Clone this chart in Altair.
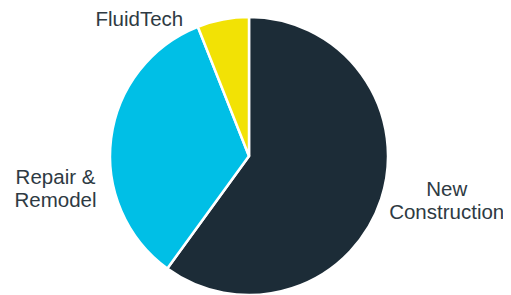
import altair as alt
import pandas as pd

categories = ["New Construction", "Repair & Remodel", "FluidTech"]
labels = ["New\nConstruction", "Repair &\nRemodel", "FluidTech"]
values = [60, 34, 6]
colors = ["#1c2c37", "#00bfe6", "#f2e205"]

df = pd.DataFrame({
    "category": categories,
    "label": labels,
    "value": values,
    "rank": list(range(len(categories))),
})

base = alt.Chart(df).encode(
    theta=alt.Theta("value:Q", stack=True),
    order=alt.Order("rank:Q", sort="ascending"),
    x=alt.value(241),
    y=alt.value(148),
)

pie = base.mark_arc(outerRadius=139, stroke="white", strokeWidth=2.5).encode(
    color=alt.Color("category:N", scale=alt.Scale(domain=categories, range=colors), legend=None)
)

offsets = {
    "New Construction": (17, -25),
    "Repair & Remodel": (-5, 46),
    "FluidTech": (-74, 51),
}

text_layers = []
for cat in categories:
    dx, dy = offsets[cat]
    t = base.mark_text(
        radius=190, dx=dx, dy=dy, fontSize=20.5, font="Liberation Sans",
        color="#2e3a43", lineBreak="\n", lineHeight=23, align="center", baseline="middle",
    ).encode(
        text=alt.condition(alt.datum.category == cat, "label:N", alt.value(""))
    )
    text_layers.append(t)

chart = alt.layer(pie, *text_layers).properties(
    width=495, height=287, padding=0, autosize=alt.AutoSizeParams(type="none")
).configure_view(stroke=None)

chart.save("out.html", embed_options={"renderer": "svg", "actions": False})
